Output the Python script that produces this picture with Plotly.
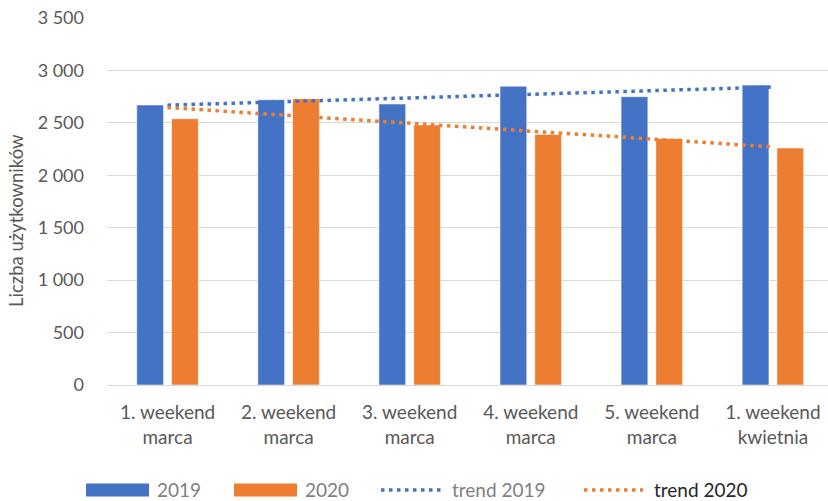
import numpy as np
import plotly.graph_objects as go

# Weekly user counts: first weekends of March/April, 2019 vs 2020
categories = [
    "1. weekend<br>marca",
    "2. weekend<br>marca",
    "3. weekend<br>marca",
    "4. weekend<br>marca",
    "5. weekend<br>marca",
    "1. weekend<br>kwietnia",
]
users_2019 = [2670, 2720, 2680, 2850, 2750, 2860]
users_2020 = [2540, 2730, 2480, 2390, 2350, 2260]
y_ticks = [0, 500, 1000, 1500, 2000, 2500, 3000, 3500]
series_names = ["2019", "2020", "trend 2019", "trend 2020"]
y_title = "Liczba użytkowników"

BLUE = "#4472C4"
ORANGE = "#ED7D31"
GRID = "#D9D9D9"
TEXT = "#595959"
FONT = "Lato"

W, H = 828, 501
M_L, M_R, M_T, M_B = 107, 0, 18, 116
PLOT_W = W - M_L - M_R
PLOT_H = H - M_T - M_B

idx = np.arange(len(categories))


def linear_trend(values):
    """Least-squares linear trend evaluated at each category."""
    slope, intercept = np.polyfit(idx, np.asarray(values, dtype=float), 1)
    return slope * idx + intercept


fig = go.Figure()

bar_line = dict(color="rgba(255,255,255,0.55)", width=1)
fig.add_trace(go.Bar(x=categories, y=users_2019, name=series_names[0],
                     marker=dict(color=BLUE, line=bar_line), showlegend=False))
fig.add_trace(go.Bar(x=categories, y=users_2020, name=series_names[1],
                     marker=dict(color=ORANGE, line=bar_line), showlegend=False))

dot = "3.5px,4.5px"
fig.add_trace(go.Scatter(x=categories, y=linear_trend(users_2019), name=series_names[2],
                         mode="lines", line=dict(color=BLUE, width=3.5, dash=dot),
                         showlegend=False))
fig.add_trace(go.Scatter(x=categories, y=linear_trend(users_2020), name=series_names[3],
                         mode="lines", line=dict(color=ORANGE, width=3.5, dash=dot),
                         showlegend=False))


# Helpers to place decorations by pixel position in paper coordinates
def px_x(px):
    return (px - M_L) / PLOT_W


def px_y(py):
    return (H - M_B - py) / PLOT_H


shapes = []
annotations = []

# Rotated y-axis title
annotations.append(dict(text=y_title, xref="paper", yref="paper",
                        x=px_x(16), y=px_y(221), xanchor="center", yanchor="middle",
                        textangle=-90, showarrow=False,
                        font=dict(family=FONT, size=18.5, color=TEXT)))

# Legend below the plot with wide swatches
legend_y = 490
legend_items = [
    # (kind, color, swatch x0, swatch x1, text x, text color)
    ("rect", BLUE, 86, 149, 155, "#7F7F7F"),
    ("rect", ORANGE, 234, 297, 303, "#7F7F7F"),
    ("dot", BLUE, 381, 441, 450, "#7F7F7F"),
    ("dot", ORANGE, 584, 643, 652, "#262626"),
]
for name, (kind, color, x0, x1, tx, tcolor) in zip(series_names, legend_items):
    if kind == "rect":
        shapes.append(dict(type="rect", xref="paper", yref="paper",
                           x0=px_x(x0), x1=px_x(x1),
                           y0=px_y(legend_y + 6.5), y1=px_y(legend_y - 6.5),
                           fillcolor=color, line=dict(width=0), layer="above"))
    else:
        shapes.append(dict(type="line", xref="paper", yref="paper",
                           x0=px_x(x0), x1=px_x(x1),
                           y0=px_y(legend_y), y1=px_y(legend_y),
                           line=dict(color=color, width=3.5, dash=dot), layer="above"))
    annotations.append(dict(text=name, xref="paper", yref="paper",
                            x=px_x(tx), y=px_y(legend_y), xanchor="left", yanchor="middle",
                            showarrow=False, font=dict(family=FONT, size=19, color=tcolor)))

fig.update_layout(
    width=W, height=H,
    margin=dict(l=M_L, r=M_R, t=M_T, b=M_B, pad=0),
    paper_bgcolor="white", plot_bgcolor="white",
    separators=", ",
    barmode="group", bargap=0.426, bargroupgap=0.229,
    font=dict(family=FONT, size=18, color=TEXT),
    shapes=shapes, annotations=annotations,
    xaxis=dict(
        type="category", range=[-0.5, (W - M_L) / (PLOT_W / 5.955) - 0.5],
        showgrid=False, showline=True, linecolor=GRID, linewidth=1,
        ticks="", tickfont=dict(family=FONT, size=19, color=TEXT),
        ticklabelstandoff=10,
    ),
    yaxis=dict(
        range=[0, 3500], tickvals=y_ticks, tickformat=",d",
        showgrid=True, gridcolor=GRID, gridwidth=1, zeroline=False,
        ticks="", tickfont=dict(family=FONT, size=18, color=TEXT),
        ticklabelstandoff=22,
    ),
)

fig.write_html("out.html")
